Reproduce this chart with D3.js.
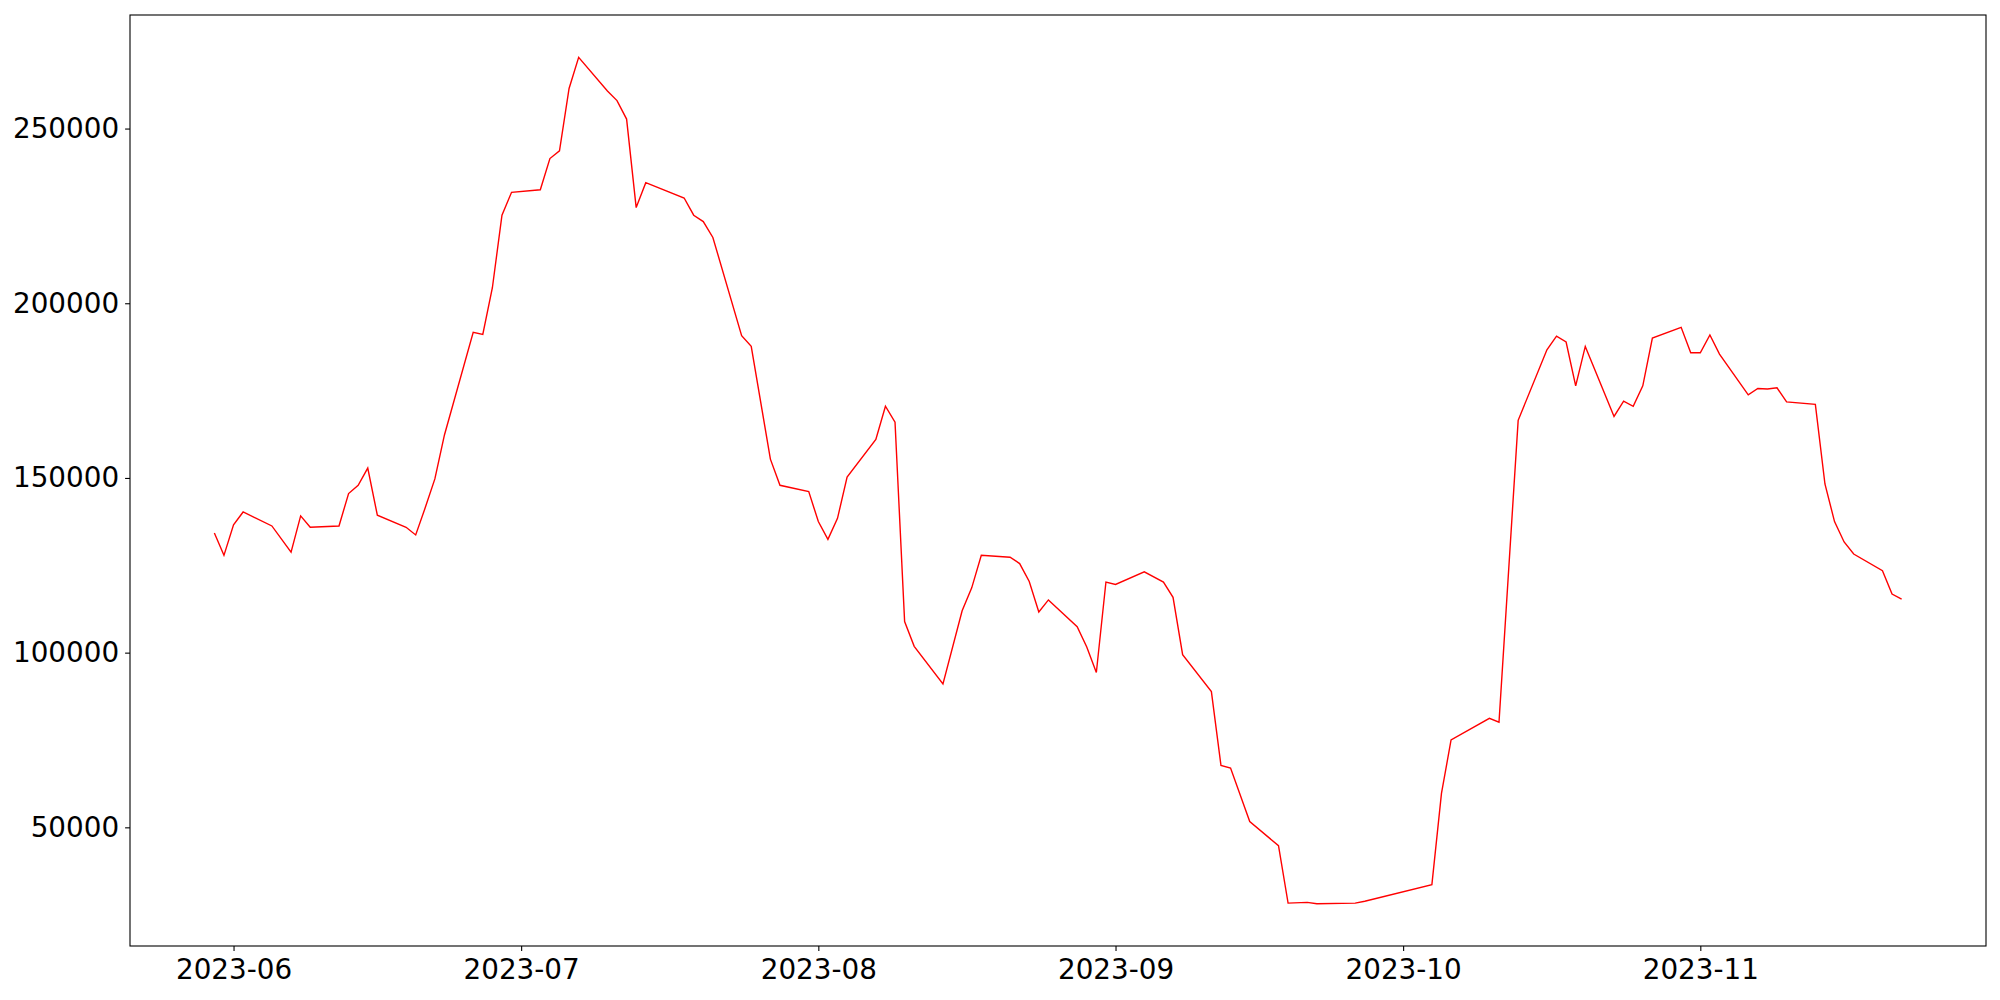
<!DOCTYPE html>
<html lang="en">
<head>
<meta charset="UTF-8">
<title>Line chart</title>
<script src="https://d3js.org/d3.v7.min.js"></script>
<style>
  body { margin: 0; background: #fff; }
  svg { display: block; }
  .tick text { font-family: 'DejaVu Sans', sans-serif; font-size: 27.8px; fill: #000; }
</style>
</head>
<body>
<svg id="chart" width="2000" height="1000"></svg>
<script>
// trading days
var dates = ["2023-05-30","2023-05-31","2023-06-01","2023-06-02","2023-06-05","2023-06-07","2023-06-08","2023-06-09",
  "2023-06-12","2023-06-13","2023-06-14","2023-06-15","2023-06-16","2023-06-19","2023-06-20","2023-06-21","2023-06-22",
  "2023-06-23","2023-06-26","2023-06-27","2023-06-28","2023-06-29","2023-06-30","2023-07-03","2023-07-04","2023-07-05",
  "2023-07-06","2023-07-07","2023-07-10","2023-07-11","2023-07-12","2023-07-13","2023-07-14","2023-07-18","2023-07-19",
  "2023-07-20","2023-07-21","2023-07-24","2023-07-25","2023-07-27","2023-07-28","2023-07-31","2023-08-01","2023-08-02",
  "2023-08-03","2023-08-04","2023-08-07","2023-08-08","2023-08-09","2023-08-10","2023-08-11","2023-08-14","2023-08-16",
  "2023-08-17","2023-08-18","2023-08-21","2023-08-22","2023-08-23","2023-08-24","2023-08-25","2023-08-28","2023-08-29",
  "2023-08-30","2023-08-31","2023-09-01","2023-09-04","2023-09-06","2023-09-07","2023-09-08","2023-09-11","2023-09-12",
  "2023-09-13","2023-09-15","2023-09-18","2023-09-19","2023-09-21","2023-09-22","2023-09-26","2023-09-27","2023-10-04",
  "2023-10-05","2023-10-06","2023-10-10","2023-10-11","2023-10-13","2023-10-16","2023-10-17","2023-10-18","2023-10-19",
  "2023-10-20","2023-10-23","2023-10-24","2023-10-25","2023-10-26","2023-10-27","2023-10-30","2023-10-31","2023-11-01",
  "2023-11-02","2023-11-03","2023-11-06","2023-11-07","2023-11-08","2023-11-09","2023-11-10","2023-11-13","2023-11-14",
  "2023-11-15","2023-11-16","2023-11-17","2023-11-20","2023-11-21","2023-11-22"];

var values = [134230,127850,136600,140260,136260,128770,139150,135890,
  136260,145530,147900,152820,139350,135890,133690,141520,149730,
  162310,191660,191110,204440,225200,231750,232470,241420,243620,
  261470,270390,260750,258010,252720,227380,234500,230120,225200,
  223370,218830,190740,187650,155390,147900,146100,137520,132430,
  138430,150270,161030,170520,165940,108920,101800,91040,112000,
  118550,127850,127310,125500,120380,111630,115090,107430,101620,
  94330,120210,119500,123130,120210,115840,99420,88840,67700,
  66990,51660,44740,28320,28520,28150,28320,28840,33610,
  59700,75000,81200,80090,166490,186700,190570,188910,176360,
  187650,167600,171980,170520,176360,190030,193110,185820,185820,
  190940,185450,173780,175610,175440,175810,171780,171060,148270,
  137520,131680,128220,123470,116750,115290];

var yTicks = [50000, 100000, 150000, 200000, 250000];
var xTicks = ["2023-06-01","2023-07-01","2023-08-01","2023-09-01","2023-10-01","2023-11-01"];

var W = 2000, H = 1000;
var margin = {top: 15, right: 14, bottom: 54, left: 130};

var parse = d3.utcParse("%Y-%m-%d");
var data = dates.map(function(d, i) { return {date: parse(d), value: values[i]}; });

var svg = d3.select("#chart");

// matplotlib-style 5% margins
var xExt = d3.extent(data, d => d.date);
var xPad = (xExt[1] - xExt[0]) * 0.05;
var x = d3.scaleUtc()
  .domain([new Date(+xExt[0] - xPad), new Date(+xExt[1] + xPad)])
  .range([margin.left, W - margin.right]);

var yExt = d3.extent(values);
var yPad = (yExt[1] - yExt[0]) * 0.05;
var y = d3.scaleLinear()
  .domain([yExt[0] - yPad, yExt[1] + yPad])
  .range([H - margin.bottom, margin.top]);

var line = d3.line().x(d => x(d.date)).y(d => y(d.value));

svg.append("path")
  .datum(data)
  .attr("fill", "none")
  .attr("stroke", "#ff0000")
  .attr("stroke-width", 1.4)
  .attr("stroke-linejoin", "miter")
  .attr("d", line);

svg.append("g")
  .attr("transform", "translate(0," + (H - margin.bottom) + ")")
  .call(d3.axisBottom(x)
    .tickValues(xTicks.map(parse))
    .tickFormat(d3.utcFormat("%Y-%m"))
    .tickSizeOuter(0)
    .tickSize(4.9)
    .tickPadding(8.4));

svg.append("g")
  .attr("transform", "translate(" + margin.left + ",0)")
  .call(d3.axisLeft(y)
    .tickValues(yTicks)
    .tickFormat(d3.format("d"))
    .tickSizeOuter(0)
    .tickSize(4.9)
    .tickPadding(6));

svg.selectAll(".domain").remove();
svg.selectAll(".tick line").attr("stroke", "#000").attr("stroke-width", 1.1);

// frame
svg.append("rect")
  .attr("x", margin.left)
  .attr("y", margin.top)
  .attr("width", W - margin.left - margin.right)
  .attr("height", H - margin.top - margin.bottom)
  .attr("fill", "none")
  .attr("stroke", "#000")
  .attr("stroke-width", 1.1);
</script>
</body>
</html>
